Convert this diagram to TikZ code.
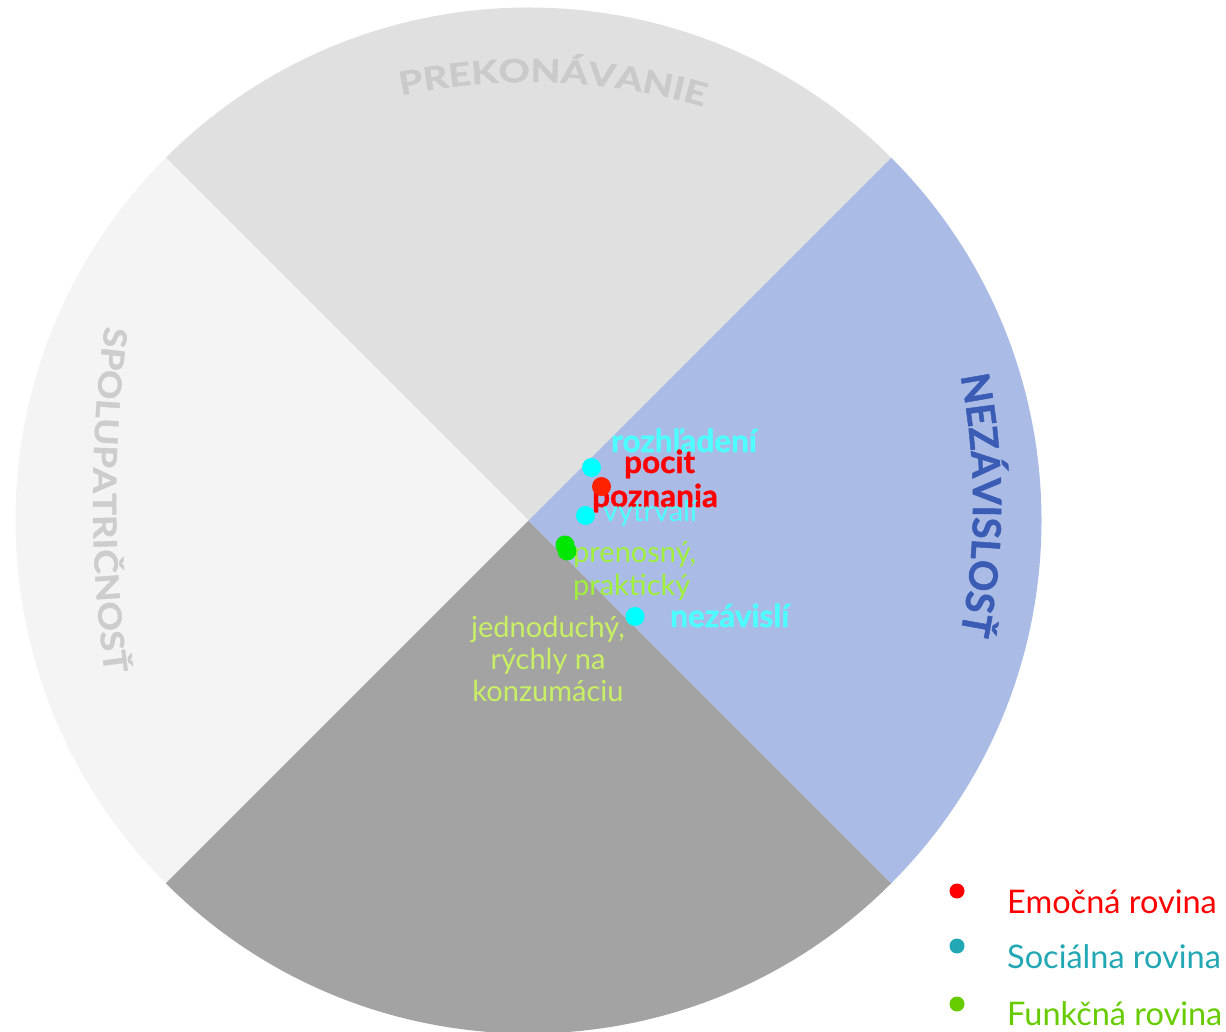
\documentclass[tikz,border=0pt]{standalone}
\usepackage{fontspec}
\setmainfont{Lato}
\newfontfamily\topfont[FakeStretch=1.22, BoldFeatures={FakeBold=1.2}]{Lato}
\newfontfamily\leftfont[FakeStretch=1.15, BoldFeatures={FakeBold=1.2}]{Lato}
\newfontfamily\rightfont[BoldFeatures={FakeBold=1.2}]{Lato}
\newfontfamily\heavyfont[BoldFeatures={FakeBold=1.0}]{Lato}
\usetikzlibrary{decorations.text}
\definecolor{secTop}{HTML}{E0E0E0}
\definecolor{secLeft}{HTML}{F4F4F4}
\definecolor{secBottom}{HTML}{A3A3A3}
\definecolor{secRight}{HTML}{AABCE6}
\definecolor{prekcol}{HTML}{CACACA}
\definecolor{spolcol}{HTML}{CDCDCD}
\definecolor{nezcol}{HTML}{3A5CB4}
\definecolor{cyanlab}{HTML}{4DFFFF}
\definecolor{cyandot}{HTML}{00FFFF}
\definecolor{reddot}{HTML}{FF2200}
\definecolor{greendot}{HTML}{00E600}
\definecolor{funclab}{HTML}{A0F03C}
\definecolor{funclabB}{HTML}{C8F064}
\definecolor{legRed}{HTML}{FF0000}
\definecolor{legTeal}{HTML}{22A7B4}
\definecolor{legGreen}{HTML}{66CC00}
\tikzset{
  dot/.style={circle, inner sep=0pt, minimum size=19pt},
  legdot/.style={circle, inner sep=0pt, minimum size=15pt},
  lab/.style={anchor=base west, inner sep=0pt, font=\fontsize{29}{29}\selectfont},
  blab/.style={anchor=base west, inner sep=0pt, font=\heavyfont\bfseries\fontsize{31.5}{31.5}\selectfont},
  legtext/.style={anchor=base west, inner sep=0pt, font=\fontsize{32.5}{32.5}\selectfont}
}
\begin{document}
\begin{tikzpicture}[x=1pt,y=1pt]
\useasboundingbox (0,0) rectangle (1226,-1032);
\clip (0,0) rectangle (1226,-1032);
\coordinate (C) at (528.5,-520.5);
% sectors
\fill[secTop] (C) -- ++(45:513) arc[start angle=45,end angle=135,radius=513pt] -- cycle;
\fill[secLeft] (C) -- ++(135:513) arc[start angle=135,end angle=225,radius=513pt] -- cycle;
\fill[secBottom] (C) -- ++(225:513) arc[start angle=225,end angle=315,radius=513pt] -- cycle;
\fill[secRight] (C) -- ++(-45:513) arc[start angle=-45,end angle=45,radius=513pt] -- cycle;
% curved titles
\path[decorate, decoration={text along path, text align=center,
  text={|\topfont\bfseries\fontsize{32}{32}\selectfont\color{prekcol}|PREKONÁVANIE}}]
  (530,-707) ++(107.9:625) arc[start angle=107.9,end angle=67.9,radius=625pt];
\path[decorate, decoration={text along path, text align=center,
  text={|\rightfont\bfseries\fontsize{39}{39}\selectfont\color{nezcol}|NEZÁVISLOSŤ}}]
  (306,-505) ++(15:667) arc[start angle=15,end angle=-15,radius=667pt];
\path[decorate, decoration={text along path, text align=center,
  text={|\leftfont\bfseries\fontsize{32}{32}\selectfont\color{spolcol}|SPOLUPATRIČNOSŤ}}]
  (1375,-500) ++(170:1282) arc[start angle=170,end angle=190,radius=1282pt];
% labels
\node[blab, text=cyanlab] (lRoz) at (611,-452) {rozhľadení};
\node[blab, text=legRed] (lPoc) at (624,-473) {pocit};
\node[blab, text=legRed] (lPoz) at (592,-507) {poznania};
\node[lab, text=cyanlab] (lVyt) at (603,-521) {vytrvalí};
\node[lab, text=funclab] (lPre) at (573,-562) {prenosný,};
\node[lab, text=funclab] (lPra) at (573,-595) {praktický};
\node[blab, text=cyanlab] (lNez) at (670,-627) {nezávislí};
\node[anchor=base, inner sep=0pt, text=funclabB, align=center,
  font=\fontsize{29}{32}\selectfont] (lJed) at (548,-701)
  {jednoduchý,\\rýchly na\\konzumáciu};
% dots
\node[dot, fill=cyandot] (dRoz) at (591.5,-467.5) {};
\node[dot, fill=reddot] (dPoc) at (601.5,-486.5) {};
\node[dot, fill=cyandot] (dVyt) at (585.5,-515.5) {};
\node[dot, fill=greendot] (dJed) at (565,-545) {};
\node[dot, fill=greendot] (dPre) at (567,-551) {};
\node[dot, fill=cyandot] (dNez) at (635,-616.5) {};
% legend
\node[legdot, fill=legRed] (kE) at (957,-891) {};
\node[legdot, fill=legTeal] (kS) at (957,-946) {};
\node[legdot, fill=legGreen] (kF) at (957,-1004) {};
\node[legtext, text=legRed] (tE) at (1007,-913) {Emočná rovina};
\node[legtext, text=legTeal] (tS) at (1007,-968) {Sociálna rovina};
\node[legtext, text=legGreen] (tF) at (1007,-1025) {Funkčná rovina};
\end{tikzpicture}
\end{document}
